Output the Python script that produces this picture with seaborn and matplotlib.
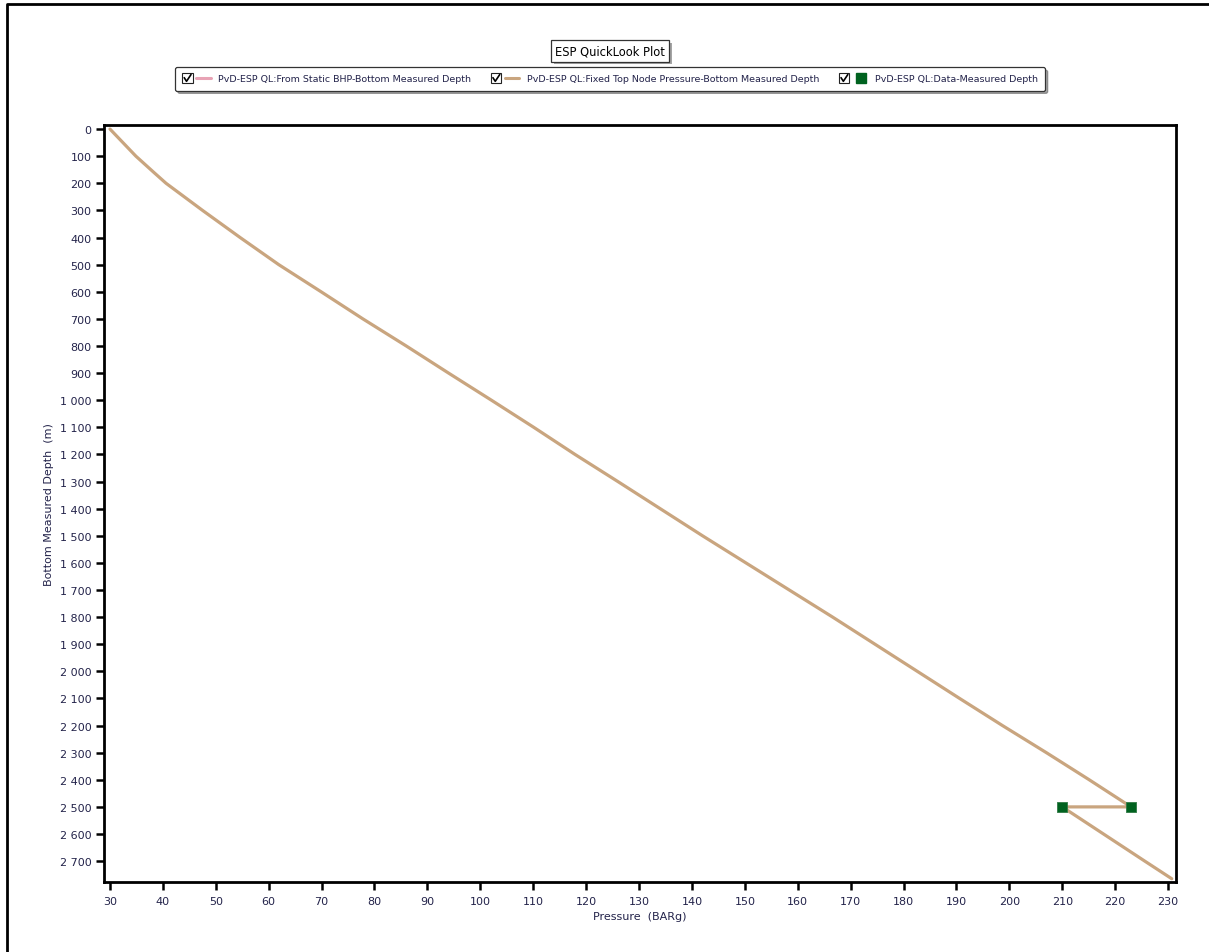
import numpy as np
import pandas as pd
import matplotlib
matplotlib.use("Agg")
import matplotlib.pyplot as plt
import matplotlib.patheffects as pe
from matplotlib.lines import Line2D
from matplotlib.patches import Rectangle
from matplotlib.legend_handler import HandlerBase
from matplotlib.ticker import FuncFormatter, MultipleLocator
import seaborn as sns

# PvD curve, fixed top node pressure (pump step at 2500 m)
depth_m = [0, 100, 160, 200, 300, 400, 500, 600, 700, 800, 900, 1000, 1100, 1200,
           1300, 1400, 1500, 1600, 1700, 1800, 1900, 2000, 2100, 2200, 2300,
           2400, 2500, 2500, 2600, 2700, 2765]
pressure_bar = [30, 34.9, 38.3, 40.6, 47.5, 54.6, 61.9, 69.9, 77.8, 86.0, 94.0,
                102.1, 110.1, 117.9, 126.0, 134.0, 142.0, 150.2, 158.4, 166.6,
                174.6, 182.6, 190.6, 198.7, 207.0, 215.1, 223.0, 210.0, 217.8,
                225.6, 230.7]

# measured data points
data_depth = [2500, 2500]
data_pressure = [210, 223]

legend_labels = ["PvD-ESP QL:From Static BHP-Bottom Measured Depth",
                 "PvD-ESP QL:Fixed Top Node Pressure-Bottom Measured Depth",
                 "PvD-ESP QL:Data-Measured Depth"]

TAN = "#C9A57F"
PINK = "#E8A3B5"
GREEN = "#00621F"
TXT = "#23234a"

sns.set_theme(style="ticks")
plt.rcParams["font.family"] = ["DejaVu Sans"]

fig = plt.figure(figsize=(12.09, 9.53), dpi=100)
ax = fig.add_axes([104 / 1209, 1 - 883 / 953, 1072 / 1209, 757 / 953])

curve = pd.DataFrame({"pressure": pressure_bar, "depth": depth_m})
sns.lineplot(data=curve, x="pressure", y="depth", sort=False, estimator=None,
             color=TAN, lw=2.3, ax=ax)
meas = pd.DataFrame({"pressure": data_pressure, "depth": data_depth})
sns.scatterplot(data=meas, x="pressure", y="depth", marker="s", s=55,
                color=GREEN, edgecolor="#2f7a45", linewidth=0.6, ax=ax, zorder=3)

ax.set_xlim(28.87, 231.5)
ax.set_ylim(2777, -15)
ax.xaxis.set_major_locator(MultipleLocator(10))
ax.yaxis.set_major_locator(MultipleLocator(100))
ax.yaxis.set_major_formatter(FuncFormatter(lambda v, p: f"{int(v):,}".replace(",", " ")))
for s in ax.spines.values():
    s.set_linewidth(2)
    s.set_color("black")
ax.tick_params(axis="both", direction="out", length=6, width=1.8, color="black",
               labelsize=8, labelcolor=TXT)
ax.tick_params(axis="x", pad=4)
ax.tick_params(axis="y", pad=3)
ax.set_xlabel("Pressure  (BARg)", fontsize=8, color=TXT)
ax.set_ylabel("Bottom Measured Depth  (m)", fontsize=8, color=TXT)
ax.xaxis.set_label_coords(0.5, -0.038)
ax.yaxis.set_label_coords(-0.047, 0.5)
ax.grid(False)


class CheckHandler(HandlerBase):
    """checkbox followed by the series sample"""
    def create_artists(self, legend, orig, xd, yd, w, h, fs, trans):
        bs = 7.5
        ym = -yd + h / 2
        y0 = ym - bs / 2
        box = Rectangle((-xd, y0), bs, bs, fc="white", ec="#222222", lw=0.8,
                        transform=trans)
        tick = Line2D([-xd + bs * 0.2, -xd + bs * 0.42, -xd + bs * 0.85],
                      [y0 + bs * 0.55, y0 + bs * 0.2, y0 + bs * 0.85],
                      color="black", lw=1.2, transform=trans)
        x1 = -xd + bs + 2.5
        if orig.get_marker() not in (None, "None", ""):
            sample = Line2D([x1 + 6], [ym], marker="s", ms=6.5, ls="none",
                            color=orig.get_color(), transform=trans)
        else:
            sample = Line2D([x1, x1 + 10.5], [ym, ym], color=orig.get_color(),
                            lw=2.2, transform=trans)
        return [box, tick, sample]


handles = [Line2D([], [], color=PINK), Line2D([], [], color=TAN),
           Line2D([], [], color=GREEN, marker="s", ls="none")]
leg = fig.legend(handles, legend_labels, loc="center", bbox_to_anchor=(610 / 1209, 1 - 80 / 953),
                 ncol=3, fontsize=6.8, handler_map={Line2D: CheckHandler()},
                 handlelength=2.9, handletextpad=0.9, columnspacing=2.1,
                 frameon=True, fancybox=True, shadow=True, borderpad=0.75)
for t in leg.get_texts():
    t.set_color(TXT)
fr = leg.get_frame()
fr.set_edgecolor("#333333")
fr.set_linewidth(0.9)
fr.set_facecolor("white")
fr.set_alpha(1)

title = fig.text(610 / 1209, 1 - 52 / 953, "ESP QuickLook Plot", ha="center", va="center",
                 fontsize=8.3, color="black",
                 bbox=dict(boxstyle="square,pad=0.35", fc="white", ec="#333333", lw=0.9))
title.get_bbox_patch().set_path_effects([pe.withSimplePatchShadow(offset=(2, -2), alpha=0.5)])

# outer frame (top and left edges)
fig.add_artist(Line2D([7 / 1209, 7 / 1209, 1], [0, 1 - 5 / 953, 1 - 5 / 953],
                      color="black", lw=2, transform=fig.transFigure))

fig.savefig("out.png", dpi=100)
